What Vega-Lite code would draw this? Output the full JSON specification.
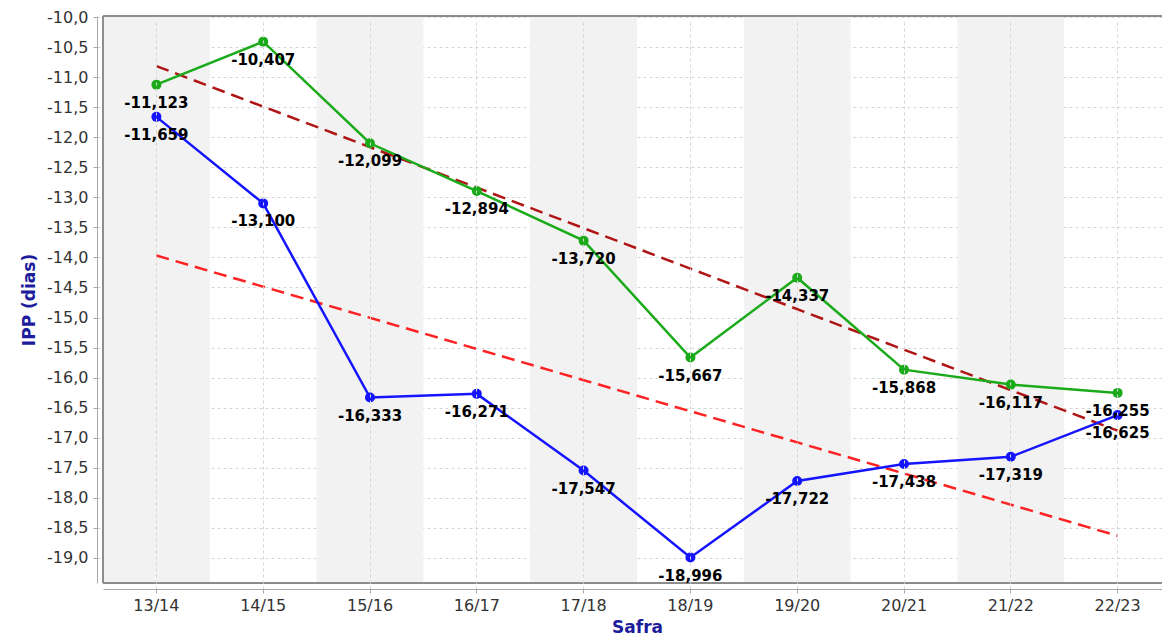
{
  "$schema": "https://vega.github.io/schema/vega-lite/v6.json",
  "width": 1059,
  "height": 567,
  "autosize": "none",
  "padding": {"left": 103, "top": 16, "right": 0, "bottom": 59},
  "background": "white",
  "config": {
    "locale": {"number": {"decimal": ",", "thousands": ".", "grouping": [3], "currency": ["", ""], "minus": "-"}},
    "view": {"stroke": "#8a8a8a", "strokeWidth": 1},
    "font": "DejaVu Sans",
    "axisX": {
      "titleFont": "DejaVu Sans",
      "titleFontSize": 17,
      "titleFontWeight": "bold",
      "titleColor": "#1c1c9c",
      "titlePadding": 6,
      "labelFont": "DejaVu Sans",
      "labelFontSize": 16,
      "labelColor": "#333333",
      "labelAngle": 0,
      "labelPadding": 4,
      "offset": 6,
      "domainColor": "#a8a8a8",
      "tickColor": "#a8a8a8",
      "tickSize": 4,
      "bandPosition": 0.5,
      "grid": true,
      "gridColor": "#d6d6d6",
      "gridDash": [3, 3],
      "gridWidth": 1
    },
    "axisY": {
      "titleFont": "DejaVu Sans",
      "titleFontSize": 17,
      "titleFontWeight": "bold",
      "titleColor": "#1c1c9c",
      "titlePadding": 8,
      "labelFont": "DejaVu Sans",
      "labelFontSize": 16,
      "labelColor": "#333333",
      "labelPadding": 5,
      "labelOverlap": false,
      "labelSeparation": 0,
      "offset": 6,
      "domainColor": "#a8a8a8",
      "tickColor": "#a8a8a8",
      "tickSize": 4,
      "grid": true,
      "gridColor": "#d6d6d6",
      "gridDash": [3, 3],
      "gridWidth": 1
    }
  },
  "datasets": {
    "series": [
      {"safra": "13/14", "serie": "A", "ipp": -11.123},
      {"safra": "14/15", "serie": "A", "ipp": -10.407},
      {"safra": "15/16", "serie": "A", "ipp": -12.099},
      {"safra": "16/17", "serie": "A", "ipp": -12.894},
      {"safra": "17/18", "serie": "A", "ipp": -13.720},
      {"safra": "18/19", "serie": "A", "ipp": -15.667},
      {"safra": "19/20", "serie": "A", "ipp": -14.337},
      {"safra": "20/21", "serie": "A", "ipp": -15.868},
      {"safra": "21/22", "serie": "A", "ipp": -16.117},
      {"safra": "22/23", "serie": "A", "ipp": -16.255},
      {"safra": "13/14", "serie": "B", "ipp": -11.659},
      {"safra": "14/15", "serie": "B", "ipp": -13.100},
      {"safra": "15/16", "serie": "B", "ipp": -16.333},
      {"safra": "16/17", "serie": "B", "ipp": -16.271},
      {"safra": "17/18", "serie": "B", "ipp": -17.547},
      {"safra": "18/19", "serie": "B", "ipp": -18.996},
      {"safra": "19/20", "serie": "B", "ipp": -17.722},
      {"safra": "20/21", "serie": "B", "ipp": -17.438},
      {"safra": "21/22", "serie": "B", "ipp": -17.319},
      {"safra": "22/23", "serie": "B", "ipp": -16.625}
    ],
    "trends": [
      {"safra": "13/14", "serie": "TA", "ipp": -10.814},
      {"safra": "22/23", "serie": "TA", "ipp": -16.884},
      {"safra": "13/14", "serie": "TB", "ipp": -13.968},
      {"safra": "22/23", "serie": "TB", "ipp": -18.634}
    ],
    "bands": [
      {"safra": "13/14"},
      {"safra": "15/16"},
      {"safra": "17/18"},
      {"safra": "19/20"},
      {"safra": "21/22"}
    ]
  },
  "layer": [
    {
      "data": {"name": "bands"},
      "mark": {"type": "rect", "color": "#f2f2f2"},
      "encoding": {
        "x": {
          "field": "safra",
          "type": "nominal",
          "sort": null,
          "title": "Safra",
          "scale": {
            "type": "band",
            "domain": ["13/14", "14/15", "15/16", "16/17", "17/18", "18/19", "19/20", "20/21", "21/22", "22/23"],
            "range": [0, 1068],
            "paddingInner": 0,
            "paddingOuter": 0
          }
        }
      }
    },
    {
      "data": {"name": "trends"},
      "mark": {"type": "line", "strokeWidth": 2.5, "strokeDash": [13, 7]},
      "encoding": {
        "x": {"field": "safra", "type": "nominal", "title": "Safra"},
        "y": {
          "field": "ipp",
          "type": "quantitative",
          "title": "IPP (dias)",
          "scale": {"domain": [-19.42, -9.98], "nice": false, "zero": false},
          "axis": {
            "format": ".1f",
            "labelOverlap": false,
            "tickCount": 19,
            "values": [-19, -18.5, -18, -17.5, -17, -16.5, -16, -15.5, -15, -14.5, -14, -13.5, -13, -12.5, -12, -11.5, -11, -10.5, -10]
          }
        },
        "color": {
          "field": "serie",
          "type": "nominal",
          "scale": {"domain": ["A", "B", "TA", "TB"], "range": ["#1aaa1a", "#1414ff", "#b01515", "#ff2222"]},
          "legend": null
        }
      }
    },
    {
      "data": {"name": "bands"},
      "mark": {"type": "rule", "color": "#8a8a8a", "strokeWidth": 1},
      "encoding": {
        "y": {"datum": -9.98, "type": "quantitative"}
      }
    },
    {
      "data": {"name": "bands"},
      "mark": {"type": "rule", "color": "#8a8a8a", "strokeWidth": 1},
      "encoding": {
        "y": {"datum": -19.42, "type": "quantitative"}
      }
    },
    {
      "data": {"name": "bands"},
      "mark": {"type": "rule", "color": "#8a8a8a", "strokeWidth": 1},
      "encoding": {
        "x": {"datum": "13/14", "type": "nominal", "bandPosition": 0}
      }
    },
    {
      "data": {"name": "series"},
      "mark": {"type": "line", "strokeWidth": 2.5, "point": {"filled": true, "size": 100, "strokeWidth": 0}},
      "encoding": {
        "x": {"field": "safra", "type": "nominal"},
        "y": {"field": "ipp", "type": "quantitative"},
        "color": {
          "field": "serie",
          "type": "nominal",
          "scale": {"domain": ["A", "B", "TA", "TB"], "range": ["#1aaa1a", "#1414ff", "#b01515", "#ff2222"]},
          "legend": null
        }
      }
    },
    {
      "data": {"name": "series"},
      "mark": {"type": "text", "font": "DejaVu Sans", "fontSize": 15, "fontWeight": "bold", "color": "#000000", "dy": 18, "baseline": "middle", "align": "center"},
      "encoding": {
        "x": {"field": "safra", "type": "nominal"},
        "y": {"field": "ipp", "type": "quantitative"},
        "text": {"field": "ipp", "type": "quantitative", "format": ".3f"}
      }
    }
  ]
}
